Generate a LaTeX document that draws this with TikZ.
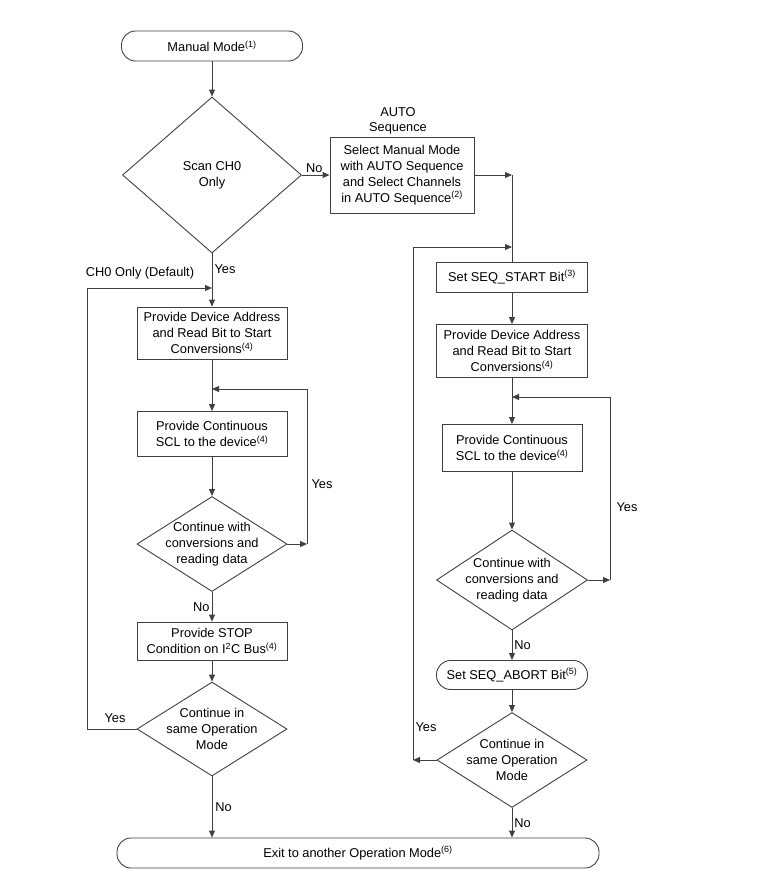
\documentclass[tikz,border=0pt]{standalone}
\usepackage{fontspec}
\setmainfont{Liberation Sans}
\usetikzlibrary{shapes.geometric,arrows.meta}

\begin{document}
\begin{tikzpicture}[x=1pt, y=-1pt, >={Triangle[length=7pt,width=6pt]}, line width=0.9pt,
    font=\fontsize{12.8}{16}\selectfont,
    box/.style={draw=black!75, rectangle, inner sep=0pt, align=center},
    term/.style={box, rounded corners=14pt},
    decision/.style={draw=black!75, diamond, inner sep=0pt},
    flow/.style={->, draw=black!75}]
    \useasboundingbox (0,0) rectangle (774,876);

    % 1. left branch: CH0 only
    \node[term, minimum width=181, minimum height=30] (manual) at (212,46) {Manual Mode\textsuperscript{(1)}};
    \node[decision, minimum width=179, minimum height=156, label={[align=center]center:{Scan CH0\\Only}}] (scan) at (212,175) {};
    \node[box, minimum width=150, minimum height=52] (addrL) at (212,333) {Provide Device Address\\and Read Bit to Start\\Conversions\textsuperscript{(4)}};
    \node[box, minimum width=150, minimum height=45] (sclL) at (212,434) {Provide Continuous\\SCL to the device\textsuperscript{(4)}};
    \node[decision, minimum width=150, minimum height=95, label={[align=center]center:{Continue with\\conversions and\\reading data}}] (contL) at (212,544) {};
    \node[box, minimum width=150, minimum height=38] (stop) at (212,641) {Provide STOP\\Condition on I\textsuperscript{2}C Bus\textsuperscript{(4)}};
    \node[decision, minimum width=150, minimum height=94, label={[align=center]center:{Continue in\\same Operation\\Mode}}] (stayL) at (212,729) {};

    % 2. right branch: AUTO sequence
    \node[box, minimum width=144, minimum height=76] (select) at (402,175) {Select Manual Mode\\with AUTO Sequence\\and Select Channels\\in AUTO Sequence\textsuperscript{(2)}};
    \node[align=center, inner sep=0pt] (autolbl) at (398,121) {AUTO\\[-1pt]Sequence};
    \node[box, minimum width=151, minimum height=30] (start) at (512,277) {Set SEQ\_START Bit\textsuperscript{(3)}};
    \node[box, minimum width=151, minimum height=53] (addrR) at (512,351) {Provide Device Address\\and Read Bit to Start\\Conversions\textsuperscript{(4)}};
    \node[box, minimum width=140, minimum height=47] (sclR) at (512,448) {Provide Continuous\\SCL to the device\textsuperscript{(4)}};
    \node[decision, minimum width=151, minimum height=100, label={[align=center]center:{Continue with\\conversions and\\reading data}}] (contR) at (512,580) {};
    \node[term, minimum width=151, minimum height=29] (abort) at (512,675) {Set SEQ\_ABORT Bit\textsuperscript{(5)}};
    \node[decision, minimum width=150, minimum height=95, label={[align=center]center:{Continue in\\same Operation\\Mode}}] (stayR) at (512,760) {};

    \node[term, minimum width=482, minimum height=30] (exit) at (358,853) {Exit to another Operation Mode\textsuperscript{(6)}};

    % 3. bend points of the loops
    \coordinate (jR) at (512,175);
    \coordinate (loopR1) at (413,760);
    \coordinate (loopR2) at (512,247);
    \coordinate (loopL1) at (87,729);
    \coordinate (loopL2) at (212,288);
    \coordinate (yesL1) at (307,544);
    \coordinate (joinL) at (212,389);
    \coordinate (yesR1) at (610,580);
    \coordinate (joinR) at (512,397);

    % 4. connectors
    \draw[flow] (manual) -- (scan);
    \draw[flow] (scan) -- (select) node[pos=0.45, above, inner sep=1.5pt] (noscan) {No};
    \draw[flow] (select) -- (jR);
    \draw[draw=black!75] (jR) -- (start);
    \draw[flow] (start) -- (addrR);
    \draw[flow] (addrR) -- (sclR);
    \draw[flow] (sclR) -- (contR);
    \draw[flow] (contR) -- (abort) node[midway, right, inner sep=2pt] (noR1) {No};
    \draw[flow] (abort) -- (stayR);
    \draw[flow] (stayR) -- (stayR.south |- exit.north) node[midway, right, inner sep=2pt] (noR2) {No};
    \draw[flow] (contR) -- (yesR1);
    \draw[flow] (yesR1) |- (joinR);
    \draw[flow] (stayR) -- (loopR1);
    \draw[flow] (loopR1) |- (loopR2);

    \draw[flow] (scan) -- (addrL);
    \draw[flow] (addrL) -- (sclL);
    \draw[flow] (sclL) -- (contL);
    \draw[flow] (contL) -- (stop) node[midway, left, inner sep=2pt] (noL1) {No};
    \draw[flow] (stop) -- (stayL);
    \draw[flow] (stayL) -- (stayL.south |- exit.north) node[midway, right, inner sep=3pt] (noL2) {No};
    \draw[flow] (contL) -- (yesL1);
    \draw[flow] (yesL1) |- (joinL);
    \draw[draw=black!75] (stayL) -- (loopL1);
    \draw[flow] (loopL1) |- (loopL2);

    % 5. free labels
    \node (yesscan) at (225,269) {Yes};
    \node (ch0lbl) at (140,273) {CH0 Only (Default)};
    \node (yesL) at (322,484) {Yes};
    \node (yesstayL) at (115,718) {Yes};
    \node (yesR) at (627,507) {Yes};
    \node (yesstayR) at (426,727) {Yes};
\end{tikzpicture}
\end{document}
